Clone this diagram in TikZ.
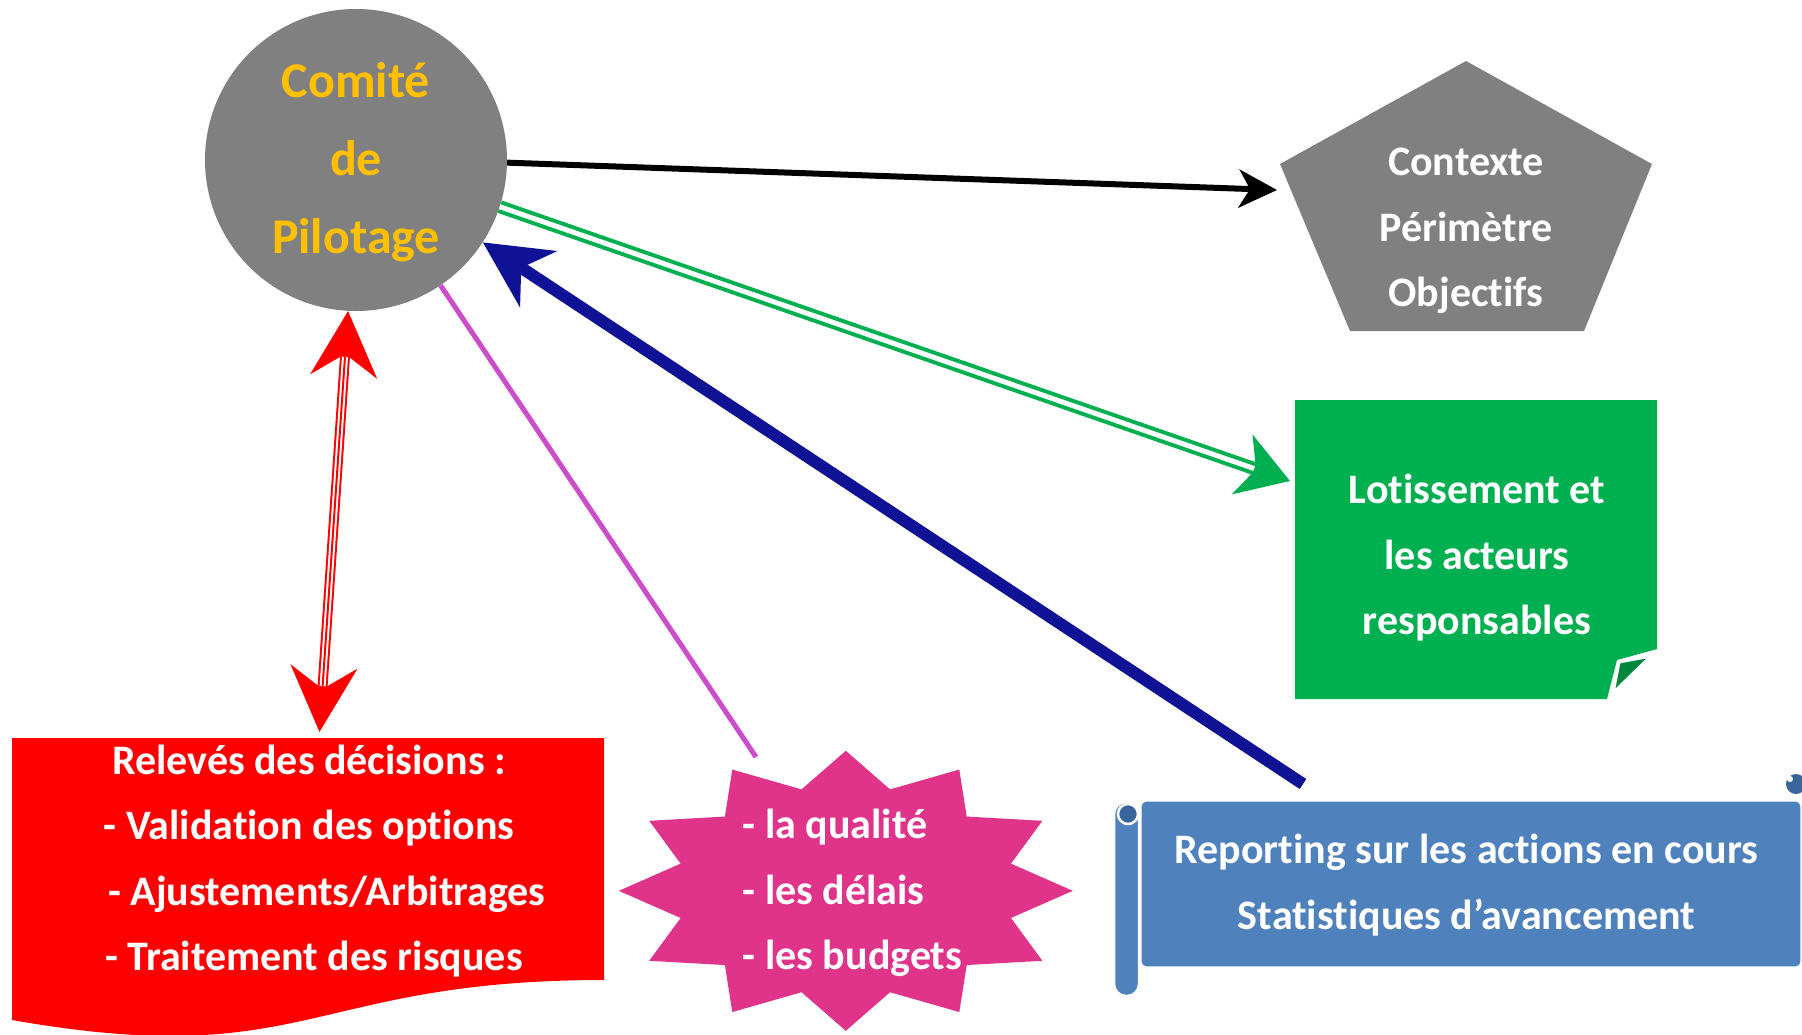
\documentclass[tikz,border=0pt]{standalone}
\usepackage{fontspec}
\setmainfont{Carlito}[Ligatures=NoCommon]
\usetikzlibrary{arrows.meta,calc}
\definecolor{cgray}{RGB}{128,128,128}
\definecolor{cgold}{RGB}{255,192,0}
\definecolor{cgreen}{RGB}{0,176,80}
\definecolor{cdkgreen}{RGB}{0,135,62}
\definecolor{cred}{RGB}{255,0,0}
\definecolor{cpink}{RGB}{224,51,138}
\definecolor{cscroll}{RGB}{79,129,189}
\definecolor{cscrolldk}{RGB}{58,100,156}
\definecolor{cnavy}{RGB}{16,18,150}
\definecolor{cmag}{RGB}{204,76,204}
\begin{document}
\begin{tikzpicture}[x=1pt,y=-1pt,
  txt/.style={text=white,font=\bfseries\fontsize{42}{65.5}\selectfont,align=center,inner sep=0pt},
  blackarrow/.style={draw=black,line width=6pt,-{Stealth[length=38pt,width=38pt,inset=11pt]}},
  greenarrow/.style={draw=cgreen,line width=13pt,-{Stealth[length=50pt,width=62pt,inset=14pt]}},
  greengap/.style={draw=white,line width=5pt,shorten >=38pt},
  bluearrow/.style={draw=cnavy,line width=12pt,-{Stealth[length=66pt,width=66pt,inset=20pt]}},
  magline/.style={draw=cmag,line width=5pt},
  redarrow/.style={draw=cred,line width=10pt,{Stealth[length=65pt,width=66pt,inset=22pt]}-{Stealth[length=65pt,width=66pt,inset=22pt]}},
  redgap/.style={draw=white,line width=6pt,shorten >=46pt,shorten <=46pt},
  redmid/.style={draw=cred,line width=2pt,shorten >=46pt,shorten <=46pt}]
\useasboundingbox (0,0) rectangle (1802,1034);

% ---- shapes ----
% pentagon
\fill[cgray] (1466,61) -- (1652,164) -- (1584,331) -- (1350,331) -- (1280,164) -- cycle;
% green folded note
\fill[cgreen] (1295,400) -- (1657,400) -- (1657,649) -- (1617,660) -- (1607,699) -- (1295,699) -- cycle;
\filldraw[fill=cdkgreen,draw=white,line width=3pt,line join=round] (1619,662) -- (1651,656) -- (1613,693) -- cycle;
% red document shape
\fill[cred] (12,738) -- (604,738) -- (604,980) .. controls (308,980) and (308,1072) .. (12,1020) -- cycle;
% pink 12-point star
\begin{scope}[shift={(845.8,890.8)}]
\fill[cpink] (0:227pt and 140pt)
  \foreach \k in {0,...,11}{ -- (\k*30+15:171pt and 105pt) -- (\k*30+30:227pt and 140pt)} -- cycle;
\end{scope}
% blue scroll
\filldraw[fill=cscroll,draw=white,line width=1.2pt,rounded corners=5pt] (1141,801) rectangle (1801,967);
\fill[cscrolldk] (1796,784) circle (10pt);
\fill[white] (1790,779) circle (3pt);
\draw[white,line width=2pt] (1783,795) -- (1792,795);
\filldraw[fill=cscroll,draw=white,line width=2.5pt,rounded corners=12pt] (1114,802) rectangle (1139,996);
\filldraw[fill=cscrolldk,draw=white,line width=2.5pt] (1128,814) circle (10pt);

% ---- nodes ----
\node[circle,fill=cgray,minimum size=302pt,inner sep=0pt] (cp) at (356,160) {};
\node[text=cgold,font=\bfseries\fontsize{50}{78}\selectfont,align=center,inner sep=0pt] (cptxt) at (356,162) {Comité\\de\\Pilotage};
\node[txt] (ctx) at (1466,231) {Contexte\\Périmètre\\Objectifs};
\node[txt] (lot) at (1477,558) {Lotissement et\\les acteurs\\responsables};
\node[txt] (rel) at (309,861) {Relevés des décisions :\\- Validation des options\\\hspace*{36pt}- Ajustements/Arbitrages\\\hspace*{10pt}- Traitement des risques};
\node[txt,align=left] (qual) at (852.5,893) {- la qualité\\- les délais\\- les budgets};
\node[txt] (rep) at (1466.5,885) {Reporting sur les actions en cours\\Statistiques d’avancement};

% ---- connector ends ----
\coordinate (ctxin) at (1277,190);
\coordinate (lotin) at (1290,481);
\coordinate (repout) at (1303,784);
\coordinate (qualin) at (756,757);
\coordinate (relin) at (319.5,732);

% ---- connectors ----
\draw[blackarrow] (cp.-1.5) -- (ctxin);
\draw[greenarrow] (cp.-18.5) -- (lotin);
\draw[greengap] (cp.-18.5) -- (lotin);
\draw[magline] (cp.-56.3) -- (qualin);
\draw[bluearrow] (repout) -- (cp.-33.2);
\draw[redarrow] (relin) -- (cp.-93.5);
\draw[redgap] (relin) -- (cp.-93.5);
\draw[redmid] (relin) -- (cp.-93.5);
\end{tikzpicture}
\end{document}
